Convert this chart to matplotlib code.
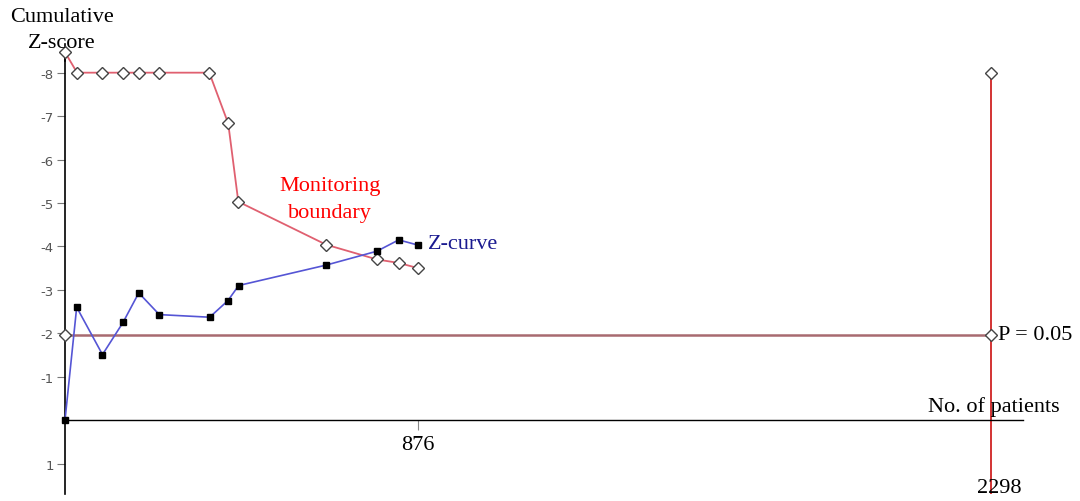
import matplotlib
matplotlib.use("Agg")
import matplotlib.pyplot as plt

# Z-curve (cumulative Z-score vs number of patients)
z_pacientes = [0, 29, 93, 144, 183, 234, 359, 404, 431, 648, 774, 828, 876]
z_valores = [0, -2.60, -1.51, -2.25, -2.93, -2.43, -2.37, -2.75, -3.10, -3.57, -3.89, -4.15, -4.03]

# Fronteira de monitoramento
fronteira_pacientes = [0, 30, 93, 144, 183, 234, 358, 405, 430, 648, 774, 828, 876]
fronteira_valores = [-8.47, -8, -8, -8, -8, -8, -8, -6.83, -5.03, -4.04, -3.70, -3.62, -3.50]

# Tamanho da informacao requerida e limite convencional
info_requerida = 2298
z_topo = -8
p_005 = -1.96

y_ticks = [-8, -7, -6, -5, -4, -3, -2, -1, 1]
y_rotulos = ["-8", "-7", "-6", "-5", "-4", "-3", "-2", "-1", "1"]
x_ticks = [876]

serif = "Liberation Serif"

fig = plt.figure(figsize=(10.8, 5.02), dpi=100)
ax = fig.add_axes([65 / 1080, 7 / 502, (1023 - 65) / 1080, (495 - 45) / 502])
ax.set_xlim(0, 2377)
ax.set_ylim(1.70, -8.66)

# eixos
for lado in ["top", "right"]:
    ax.spines[lado].set_visible(False)
ax.spines["bottom"].set_position(("data", 0))
ax.spines["bottom"].set_linewidth(1.0)
ax.spines["left"].set_linewidth(1.2)
ax.annotate("", xy=(0, -8.68), xytext=(0, -8.2),
            arrowprops=dict(arrowstyle="->", color="black", lw=1.2), annotation_clip=False)

ax.set_yticks(y_ticks)
ax.set_yticklabels(y_rotulos, fontsize=9.5, color="#555555")
ax.tick_params(axis="y", direction="out", length=6, color="#777777", pad=2)
ax.set_xticks(x_ticks)
ax.set_xticklabels([str(t) for t in x_ticks], fontsize=16, family=serif)
ax.tick_params(axis="x", direction="out", length=7, color="#888888", pad=4)

# linha P = 0.05
ax.plot([0, info_requerida], [p_005, p_005], color="#a86a70", lw=1.8, zorder=2)
ax.plot([0, info_requerida], [p_005, p_005], ls="none", marker="D", ms=6.5,
        mfc="white", mec="#444444", mew=1.0, zorder=4, clip_on=False)

# limite da informacao requerida
ax.plot([info_requerida, info_requerida], [z_topo, 1.70], color="#cc1111", lw=1.2, zorder=2)
ax.plot([info_requerida], [z_topo], ls="none", marker="D", ms=6.5,
        mfc="white", mec="#444444", mew=1.0, zorder=4, clip_on=False)

# fronteira
ax.plot(fronteira_pacientes, fronteira_valores, color="#e06070", lw=1.3, zorder=3,
        marker="D", ms=6.5, mfc="white", mec="#444444", mew=1.0, clip_on=False)

# curva Z
ax.plot(z_pacientes, z_valores, color="#5555d5", lw=1.2, zorder=5,
        marker="s", ms=4.5, mfc="black", mec="black", clip_on=False)

# textos
ax.text(658, -5.09, "Monitoring\nboundary", color="red", fontsize=16, family=serif,
        ha="center", va="center", linespacing=1.55)
ax.text(900, -4.06, "Z-curve", color="#1a1a90", fontsize=16, family=serif,
        ha="left", va="center")
ax.text(2314, -1.98, "P = 0.05", color="black", fontsize=16, family=serif,
        ha="left", va="center", clip_on=False)
ax.text(2469, -0.32, "No. of patients", color="black", fontsize=16, family=serif,
        ha="right", va="center", clip_on=False)
ax.text(2318, 1.54, "2298", color="black", fontsize=16, family=serif,
        ha="center", va="center", clip_on=False)

fig.text(62 / 1080, 1 - 18 / 502, "Cumulative", fontsize=16, family=serif,
         ha="center", va="center")
fig.text(62 / 1080, 1 - 44 / 502, "Z-score", fontsize=16, family=serif,
         ha="center", va="center")

fig.savefig("out.png", dpi=100)
